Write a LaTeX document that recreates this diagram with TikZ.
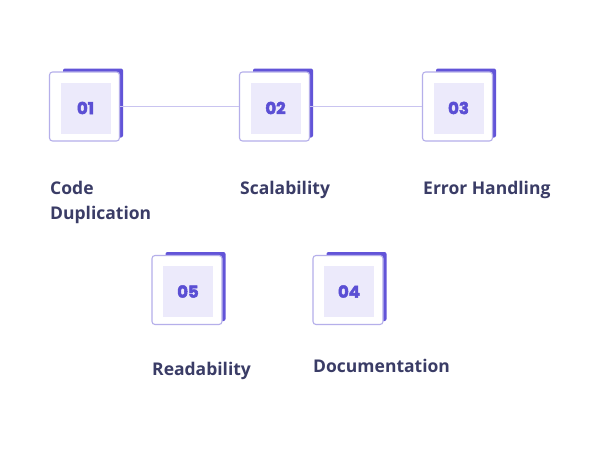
\documentclass[tikz,border=0pt]{standalone}
\usepackage{fontspec}
\setmainfont{Open Sans}
\newfontfamily\numfont[FakeBold=3,BoldFeatures={FakeBold=3}]{Poppins}
\definecolor{backc}{HTML}{6254D8}
\definecolor{framec}{HTML}{B5AFEA}
\definecolor{innerc}{HTML}{ECEAFB}
\definecolor{linec}{HTML}{C9C4F0}
\definecolor{numc}{HTML}{5B4FD4}
\definecolor{txtc}{HTML}{3A3C66}
\tikzset{
  backbox/.style={fill=backc, rounded corners=2pt},
  frontbox/.style={draw=framec, line width=1.1pt, fill=white, rounded corners=3pt, minimum width=70pt, minimum height=69pt, inner sep=0pt},
  innerbox/.style={fill=innerc, minimum width=50pt, minimum height=51pt, inner sep=0pt, text=numc, font=\numfont\bfseries\fontsize{16.5}{18}\selectfont},
  conn/.style={draw=linec, line width=1pt},
  lbl/.style={text=txtc, font=\bfseries\fontsize{17.5}{24.7}\selectfont, anchor=base west, inner sep=0pt, align=left}
}
\newcommand{\stepitem}[4]{% name, x, y, number
  \fill[backbox] (#2-21.5,#3-38) rectangle (#2+38.5,#3+31);
  \node[frontbox] (#1) at (#2,#3) {};
  \node[innerbox] (#1in) at (#2+1,#3+1.5) {#4};
}
\begin{document}
\begin{tikzpicture}[x=1pt,y=-1pt]
\useasboundingbox (0,0) rectangle (600,450);
\fill[white] (0,0) rectangle (600,450);
\stepitem{a}{84.5}{106.5}{01}
\stepitem{b}{274.5}{106.5}{02}
\stepitem{c}{457.5}{106.5}{03}
\stepitem{e}{187}{290}{05}
\stepitem{d}{348}{290}{04}
\draw[conn] (a.east) -- (b.west);
\draw[conn] (b.east) -- (c.west);
\node[lbl] (la) at (50,219) {Code\\Duplication};
\node[lbl] (lb) at (240,194.3) {Scalability};
\node[lbl] (lc) at (423,194.3) {Error Handling};
\node[lbl] (le) at (152,375.7) {Readability};
\node[lbl] (ld) at (313,372.3) {Documentation};
\end{tikzpicture}
\end{document}
